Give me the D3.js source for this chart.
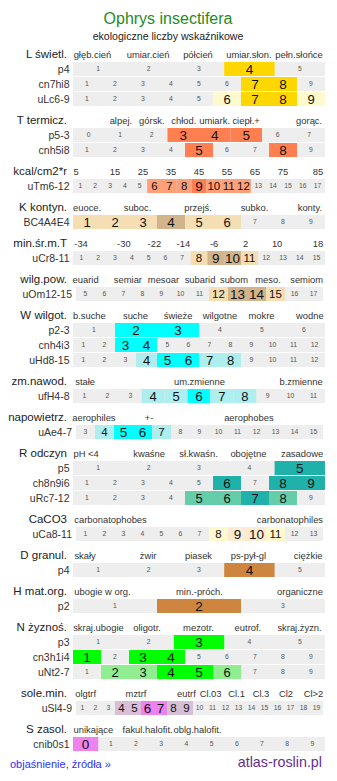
<!DOCTYPE html>
<html>
<head>
<meta charset="utf-8">
<script src="https://cdn.jsdelivr.net/npm/d3@7"></script>
<style>
  body { margin: 0; background: #fff; }
  svg { display: block; font-family: "Liberation Sans", Arial, sans-serif; }
</style>
</head>
<body>
<svg id="chart"></svg>
<script>
// section titles and header words
let titles = ['L świetl.', 'T termicz.', 'kcal/cm2*r', 'K kontyn.', 'min.śr.m.T', 'wilg.pow.',
  'W wilgot.', 'zm.nawod.', 'napowietrz.', 'R odczyn', 'CaCO3', 'D granul.', 'H mat.org.',
  'N żyznoś.', 'sole.min.', 'S zasol.']

let lWords = ['głęb.cień', 'umiar.cień', 'półcień', 'umiar.słon.', 'pełn.słońce']
let tWords = ['alpej.', 'górsk.', 'chłod.', 'umiark.', 'ciepł.+', 'gorąc.']
let kcalWords = ['5', '15', '25', '35', '45', '55', '65', '75', '85']
let kWords = ['euoce.', 'suboc.', 'przejś.', 'subko.', 'konty.']
let minTWords = ['-34', '-30', '-22', '-14', '-6', '2', '10', '18']
let wilgWords = ['euarid', 'semiar', 'mesoar', 'subarid', 'subom', 'meso.', 'semiom']
let wWords = ['b.suche', 'suche', 'świeże', 'wilgotne', 'mokre', 'wodne']
let zmWords = ['stałe', 'um.zmienne', 'b.zmienne']
let aeWords = ['aerophiles', '+-', 'aerophobes']
let rWords = ['pH <4', 'kwaśne', 'sł.kwaśn.', 'obojętne', 'zasadowe']
let caWords = ['carbonatophobes', 'carbonatophiles']
let dWords = ['skały', 'żwir', 'piasek', 'ps-pył-gl', 'ciężkie']
let hWords = ['ubogie w org.', 'min.-próch.', 'organiczne']
let nWords = ['skraj.ubogie', 'oligotr.', 'mezotr.', 'eutrof.', 'skraj.żyzn.']
let slWords = ['olgtrf', 'mztrf', 'eutrf', 'Cl.03', 'Cl.1', 'Cl.3', 'Cl2', 'Cl>2']
let sWords = ['unikające', 'fakul.halofit.', 'oblg.halofit.']

// rows: label, first value, last value, strong values, light values
let lRows = [['p4', 1, 5, [4], []], ['cn7hi8', 1, 9, [7, 8], []], ['uLc6-9', 1, 9, [7, 8], [6, 9]]]
let tRows = [['p5-3', 0, 7, [3, 4, 5], []], ['cnh5i8', 1, 9, [5, 8], []]]
let kcalRows = [['uTm6-12', 1, 17, [9], [6, 7, 8, 10, 11, 12]]]
let kRows = [['BC4A4E4', 1, 9, [4], [1, 2, 3, 5, 6]]]
let minTRows = [['uCr8-11', 1, 15, [9, 10], [8, 11]]]
let wilgRows = [['uOm12-15', 5, 17, [13, 14], [12, 15]]]
let wRows = [['p2-3', 1, 6, [2, 3], []], ['cnh4i3', 1, 12, [3, 4], []], ['uHd8-15', 1, 12, [5, 6], [4, 7, 8]]]
let zmRows = [['ufH4-8', 1, 11, [6], [4, 5, 7, 8]]]
let aeRows = [['uAe4-7', 3, 15, [5, 6], [4, 7]]]
let rRows = [['p5', 1, 5, [5], []], ['ch8n9i6', 1, 9, [6, 8, 9], []], ['uRc7-12', 1, 9, [7], [5, 6, 8]]]
let caRows = [['uCa8-11', 1, 13, [9, 10], [8, 11]]]
let dRows = [['p4', 1, 5, [4], []]]
let hRows = [['p2', 1, 3, [2], []]]
let nRows = [['p3', 1, 5, [3], []], ['cn3h1i4', 1, 9, [1, 3, 4], []], ['uNt2-7', 1, 9, [4, 5], [2, 3, 6]]]
let slRows = [['uSl4-9', 1, 19, [6, 7], [4, 5, 8, 9]]]
let sRows = [['cnib0s1', 0, 9, [0], []]]

// layout: where header words sit (percent of bar width), colours
let lPos = [7.7, 29.8, 49.6, 69.8, 89.7]
let tPos = [19, 31.3, 44, 56.2, 68.7, 93.7]
let kcalPos = [1.2, 16.7, 27.8, 38.9, 50, 61.1, 72.2, 83.3, 97.2]
let kPos = [5.6, 25.6, 49.6, 72, 94]
let minTPos = [3.2, 20.2, 32.3, 43.8, 56, 68.5, 81, 97.2]
let wilgPos = [5, 21.8, 35.9, 50.4, 63.9, 77.4, 92.7]
let wPos = [6.5, 24.8, 41.7, 58.3, 74.8, 94]
let zmPos = [4.8, 50.2, 90.5]
let aePos = [8.3, 30.2, 69.8]
let rPos = [5.2, 30.2, 49.8, 69.6, 90.9]
let caPos = [14.9, 86.1]
let dPos = [4.8, 29.8, 49.8, 69.6, 93.3]
let hPos = [11.7, 50.2, 90.1]
let nPos = [10.1, 29.4, 49.8, 69.4, 89.9]
let slPos = [5, 25, 45, 54.6, 64.9, 74.6, 84.5, 95.4]
let sPos = [8.1, 29.6, 49.4]

let strongCols = ['#ffd700', '#ff7f50', '#ff7f50', '#d2b48c', '#d2b48c', '#d2b48c', '#00ffff', '#00ffff',
  '#00ffff', '#20b2aa', '#ffebd2', '#cd853f', '#cd853f', '#00ff00', '#ee82ee', '#ee82ee']
let lightCols = ['#fffacd', '#ffa07a', '#ffa07a', '#f5deb3', '#f5deb3', '#f5deb3', '#afeeee', '#afeeee',
  '#afeeee', '#66cdaa', '#fffacd', '#cd853f', '#cd853f', '#90ee90', '#d8bfd8', '#d8bfd8']

let sections = [
  [lWords, lPos, lRows], [tWords, tPos, tRows], [kcalWords, kcalPos, kcalRows], [kWords, kPos, kRows],
  [minTWords, minTPos, minTRows], [wilgWords, wilgPos, wilgRows], [wWords, wPos, wRows],
  [zmWords, zmPos, zmRows], [aeWords, aePos, aeRows], [rWords, rPos, rRows], [caWords, caPos, caRows],
  [dWords, dPos, dRows], [hWords, hPos, hRows], [nWords, nPos, nRows], [slWords, slPos, slRows],
  [sWords, sPos, sRows]
]

let width = 337
let height = 781
let barLeft = 73
let barRight = 325
let rowH = 14
let rowStep = 15
let wideLabels = ['uOm12-15', 'uAe4-7', 'uCa8-11', 'uSl4-9']

let svg = d3.select('#chart').attr('width', width).attr('height', height)

svg.append('text')
   .attr('x', 168).attr('y', 24)
   .attr('text-anchor', 'middle')
   .attr('font-size', 16)
   .attr('fill', '#1f8c1f')
   .text('Ophrys insectifera')

svg.append('text')
   .attr('x', 168).attr('y', 40)
   .attr('text-anchor', 'middle')
   .attr('font-size', 10.6)
   .attr('fill', '#222')
   .text('ekologiczne liczby wskaźnikowe')

let headerX = d3.scaleLinear().domain([0, 100]).range([barLeft, barRight])

let rowTop = 62
sections.forEach(([words, pos, rows], si) => {
    let base = rowTop - 4.5
    svg.append('text')
       .attr('x', 67).attr('y', base)
       .attr('text-anchor', 'end')
       .attr('font-size', 11.5)
       .attr('fill', '#222')
       .text(titles[si])

    svg.append('g').selectAll('text')
       .data(words)
       .enter()
       .append('text')
       .attr('x', (d, i) => headerX(pos[i]))
       .attr('y', base)
       .attr('text-anchor', 'middle')
       .attr('font-size', 9.4)
       .attr('fill', '#333')
       .text(d => d)

    rows.forEach(([label, from, to, strong, light], ri) => {
        let y = rowTop + ri * rowStep
        let wide = wideLabels.includes(label)
        let x = d3.scaleBand()
                  .domain(d3.range(from, to + 1))
                  .range(wide ? [76, 323] : [barLeft, barRight])
        let cells = x.domain().length
        let g = svg.append('g')

        g.append('text')
         .attr('x', wide ? 72 : 69.5).attr('y', y + rowH / 2 + 3.8)
         .attr('text-anchor', 'end')
         .attr('font-size', 10.5)
         .attr('fill', '#333')
         .text(label)

        g.append('rect')
         .attr('x', x.range()[0]).attr('y', y)
         .attr('width', x.range()[1] - x.range()[0]).attr('height', rowH)
         .attr('fill', '#eeeeee')

        let level = v => strong.includes(v) ? 2 : (light.includes(v) ? 1 : 0)

        g.selectAll('rect.cell')
         .data(x.domain().filter(v => level(v) > 0))
         .enter()
         .append('rect')
         .attr('class', 'cell')
         .attr('x', v => x(v))
         .attr('y', y)
         .attr('width', x.bandwidth())
         .attr('height', rowH)
         .attr('fill', v => level(v) == 2 ? strongCols[si] : lightCols[si])

        let size = v => {
            let l = level(v)
            if (l == 2) return 13.5
            if (l == 1) return cells > 12 ? 11.5 : 13
            return 6.8
        }

        g.selectAll('text.num')
         .data(x.domain())
         .enter()
         .append('text')
         .attr('class', 'num')
         .attr('x', v => x(v) + x.bandwidth() / 2)
         .attr('y', v => y + rowH / 2 + size(v) * 0.36)
         .attr('text-anchor', 'middle')
         .attr('font-size', size)
         .attr('fill', v => level(v) > 0 ? '#111' : '#555')
         .text(v => v)
    })
    rowTop += (rows.length - 1) * rowStep + rowH + 22
})

svg.append('text')
   .attr('x', 10).attr('y', 768)
   .attr('font-size', 11)
   .attr('fill', '#2f2fff')
   .text('objaśnienie, źródła »')

svg.append('text')
   .attr('x', 322).attr('y', 767)
   .attr('text-anchor', 'end')
   .attr('font-size', 14.3)
   .attr('fill', '#662d91')
   .text('atlas-roslin.pl')
</script>
</body>
</html>
